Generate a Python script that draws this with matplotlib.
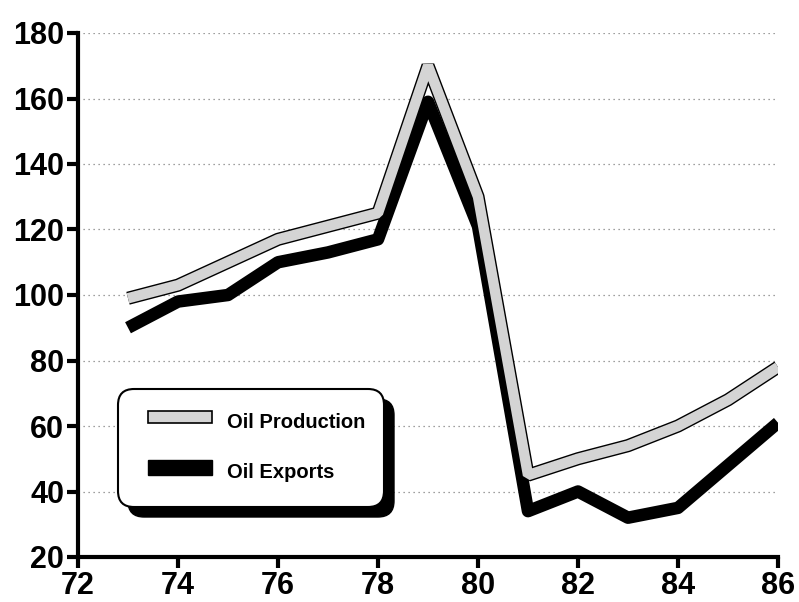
import matplotlib
matplotlib.use("Agg")
import matplotlib.pyplot as plt
import matplotlib.patheffects as pe
from matplotlib.patches import FancyBboxPatch, Rectangle
from matplotlib.transforms import IdentityTransform

# data
years = [73, 74, 75, 76, 77, 78, 79, 80, 81, 82, 83, 84, 85, 86]
production = [99, 103, 110, 117, 121, 125, 170, 130, 45, 50, 54, 60, 68, 78]
exports = [90, 98, 100, 110, 113, 117, 159, 121, 34, 40, 32, 35, 48, 61]

xticks = [72, 74, 76, 78, 80, 82, 84, 86]
yticks = [20, 40, 60, 80, 100, 120, 140, 160, 180]

tickfont = {"family": ["Liberation Sans Narrow", "Liberation Sans", "DejaVu Sans"],
            "weight": "bold", "size": 22}
legfont = {"family": ["Liberation Sans", "DejaVu Sans"], "size": 14.5, "weight": "bold"}

W, H = 799, 602
fig = plt.figure(figsize=(W / 100, H / 100), dpi=100)
ax = fig.add_axes([78 / W, 1 - 557 / H, 700 / W, 524 / H])

ax.set_xlim(72, 86)
ax.set_ylim(20, 180)

# dotted grid
for yv in yticks[1:]:
    ax.plot([72, 86], [yv, yv], color="#808080", linestyle=(0, (1, 3)),
            linewidth=0.9, zorder=1)

ax.plot(years, exports, color="black", linewidth=9, solid_joinstyle="round",
        solid_capstyle="butt", zorder=3)
ax.plot(years, production, color="#d4d4d4", linewidth=7.5, solid_joinstyle="bevel",
        solid_capstyle="butt", zorder=4,
        path_effects=[pe.Stroke(linewidth=9.5, foreground="black",
                                capstyle="butt", joinstyle="bevel"), pe.Normal()])

for s in ["top", "right"]:
    ax.spines[s].set_visible(False)
for s in ["left", "bottom"]:
    ax.spines[s].set_linewidth(3)
ax.set_xticks(xticks)
ax.set_yticks(yticks)
ax.set_xticklabels([str(v) for v in xticks], fontdict=tickfont)
ax.set_yticklabels([str(v) for v in yticks], fontdict=tickfont)
ax.tick_params(direction="out", length=8, width=3, pad=2)
for lbl in ax.get_xticklabels() + ax.get_yticklabels():
    lbl.set_clip_on(False)

# legend box with shadow (pixel coords)
def px(x, y):
    return x, H - y

tr = IdentityTransform()
x0, y0, x1, y1 = 118, 389, 384, 507
shadow = FancyBboxPatch(px(x0 + 10, y1 + 10), x1 - x0, y1 - y0,
                        boxstyle="round,pad=0,rounding_size=16",
                        facecolor="black", edgecolor="black", transform=tr, zorder=5)
box = FancyBboxPatch(px(x0, y1), x1 - x0, y1 - y0,
                     boxstyle="round,pad=0,rounding_size=16",
                     facecolor="white", edgecolor="black", linewidth=1.5,
                     transform=tr, zorder=6)
fig.patches.extend([shadow, box])

sw1 = Rectangle(px(148, 423), 64, 12, facecolor="#d4d4d4", edgecolor="black",
                linewidth=1.2, transform=tr, zorder=7)
sw2 = Rectangle(px(148, 475), 64, 15, facecolor="black", edgecolor="black",
                transform=tr, zorder=7)
fig.patches.extend([sw1, sw2])

fig.text(227 / W, 1 - 422 / H, "Oil Production", ha="left", va="center",
         fontdict=legfont, zorder=8)
fig.text(227 / W, 1 - 473 / H, "Oil Exports", ha="left", va="center",
         fontdict=legfont, zorder=8)

fig.savefig("out.png", dpi=100)
